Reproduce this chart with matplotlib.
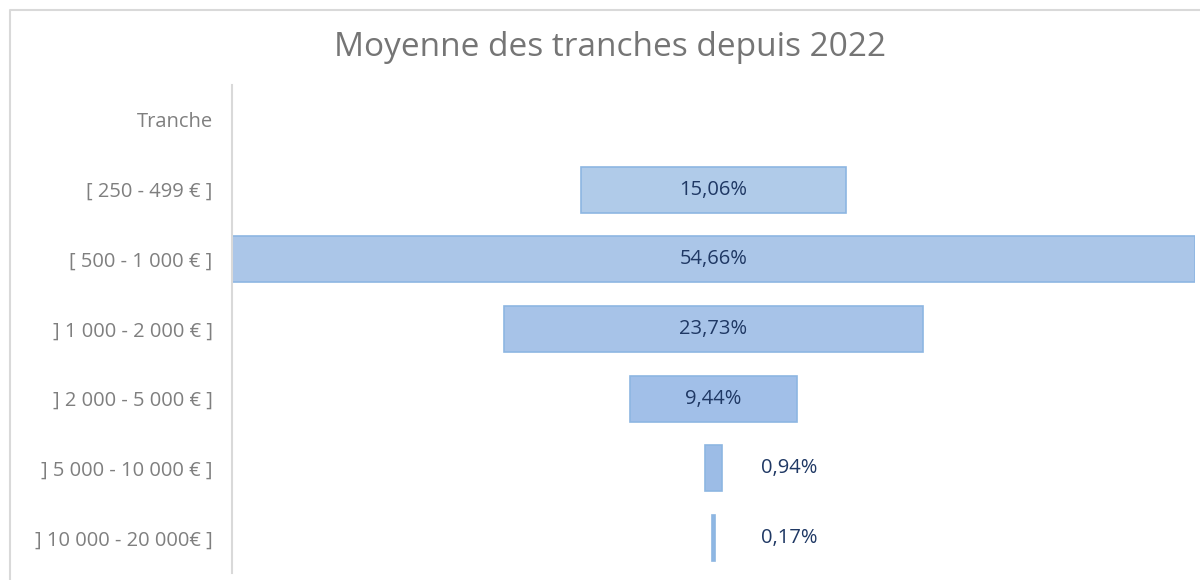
import matplotlib.pyplot as plt
from matplotlib.lines import Line2D

# donnees
tranches = ["Tranche", "[ 250 - 499 € ]", "[ 500 - 1 000 € ]", "] 1 000 - 2 000 € ]",
            "] 2 000 - 5 000 € ]", "] 5 000 - 10 000 € ]", "] 10 000 - 20 000€ ]"]
parts = [None, 15.06, 54.66, 23.73, 9.44, 0.94, 0.17]
couleurs = [None, "#b0cbe9", "#abc6e8", "#a7c3e8", "#a1bfe8", "#9cbce6", "#8fb7e4"]

plt.rcParams['font.family'] = ['Open Sans', 'DejaVu Sans']

fig = plt.figure(figsize=(12, 5.8), dpi=100)
ax = fig.add_axes([232 / 1200, 1 - 573 / 580, (1195 - 232) / 1200, (573 - 85) / 580])

ys = list(range(len(tranches)))
for y, v, c in zip(ys, parts, couleurs):
    if v is None:
        continue
    ax.barh(y, v, left=-v / 2, height=0.66, color=c, edgecolor="#8db6e2", linewidth=1.2)
    txt = f"{v:.2f}%".replace(".", ",")
    if v > 5:
        ax.text(0, y, txt, ha="center", va="center", fontsize=14.5, color="#1f3864")
    else:
        ax.annotate(txt, xy=(0, y), xytext=(34, 0), textcoords="offset points",
                    ha="left", va="center", fontsize=14.5, color="#1f3864")

vmax = max(v for v in parts if v is not None)
ax.set_xlim(-vmax / 2, vmax / 2)
ax.set_ylim(len(tranches) - 0.5, -0.5)
ax.set_yticks(ys)
ax.set_yticklabels(tranches, fontsize=14.5, color="#7f7f7f")
ax.tick_params(axis="y", length=0, pad=14)
ax.set_xticks([])
for s in ["top", "right", "bottom"]:
    ax.spines[s].set_visible(False)
ax.spines["left"].set_color("#d9d9d9")
ax.spines["left"].set_linewidth(1.5)

fig.text(610 / 1200, 1 - 48 / 580, "Moyenne des tranches depuis 2022", ha="center",
         va="center", fontsize=24, color="#757575")

# cadre du graphique
fig.add_artist(Line2D([10 / 1200, 10 / 1200, 1.0], [0.0, 1 - 10 / 580, 1 - 10 / 580],
                      transform=fig.transFigure, color="#d9d9d9", linewidth=1.5))

fig.savefig("out.png", dpi=100, facecolor="white")
